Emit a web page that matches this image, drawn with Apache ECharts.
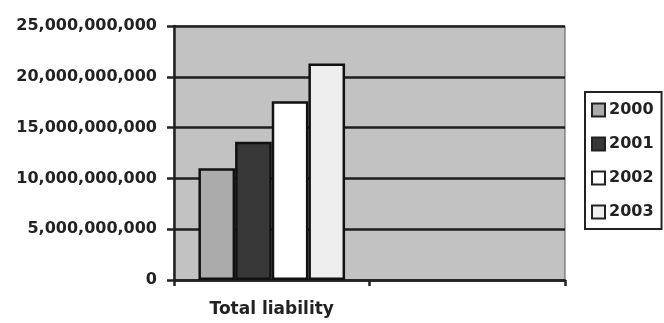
<!DOCTYPE html>
<html>
<head>
<meta charset="utf-8">
<script src="https://cdn.jsdelivr.net/npm/echarts@6/dist/echarts.min.js"></script>
<style>
  html, body { margin: 0; padding: 0; background: #ffffff; }
  #chart { width: 664px; height: 323px; }
</style>
</head>
<body>
<div id="chart"></div>
<script>
// Categories on the x axis (the second slot is left empty)
const categories = ['Total liability', ''];
// Year series and their values
const years = ['2000', '2001', '2002', '2003'];
const values2000 = [11000000000, null];
const values2001 = [13600000000, null];
const values2002 = [17600000000, null];
const values2003 = [21300000000, null];
// Value axis ticks
const yMin = 0;
const yMax = 25000000000;
const yStep = 5000000000;

const seriesValues = [values2000, values2001, values2002, values2003];
const fills = ['#ababab', '#383838', '#ffffff', '#eeeeee'];

const chart = echarts.init(document.getElementById('chart'), null, { renderer: 'canvas' });

const fmt = v => v.toLocaleString('en-US');
const font = 'DejaVu Sans, Verdana, sans-serif';

chart.setOption({
  animation: false,
  backgroundColor: '#ffffff',
  textStyle: { fontFamily: font },
  grid: {
    left: 174, right: 99, top: 26, bottom: 43,
    show: true,
    backgroundColor: '#c2c2c2',
    borderColor: '#555555',
    borderWidth: 1
  },
  legend: {
    orient: 'vertical',
    left: 585,
    top: 92,
    padding: [10, 8, 9, 6],
    itemGap: 18,
    itemWidth: 13,
    itemHeight: 13,
    borderColor: '#222222',
    borderWidth: 2,
    borderRadius: 0,
    backgroundColor: '#ffffff',
    icon: 'rect',
    textStyle: { fontFamily: font, fontSize: 16, fontWeight: 'bold', color: '#222222', padding: [0, 0, 0, -1] },
    itemStyle: { borderColor: '#222222', borderWidth: 2 },
    data: years
  },
  xAxis: {
    type: 'category',
    data: categories,
    axisLine: { show: true, lineStyle: { color: '#222222', width: 2.5 } },
    axisTick: { show: true, length: 6, inside: false, lineStyle: { color: '#222222', width: 2.5 } },
    axisLabel: { fontFamily: font, fontSize: 17, fontWeight: 'bold', color: '#222222', margin: 21 }
  },
  yAxis: {
    type: 'value',
    min: yMin, max: yMax, interval: yStep,
    axisLine: { show: true, lineStyle: { color: '#222222', width: 2.5 } },
    axisTick: { show: true, length: 7, lineStyle: { color: '#222222', width: 2.5 } },
    axisLabel: { fontFamily: font, fontSize: 16, fontWeight: 'bold', color: '#222222', margin: 17, formatter: fmt },
    splitLine: { show: true, lineStyle: { color: '#1e1e1e', width: 2.5 } }
  },
  series: years.map((y, i) => ({
    name: y,
    type: 'bar',
    data: seriesValues[i],
    barGap: '0%',
    barCategoryGap: '25%',
    itemStyle: { color: fills[i], borderColor: '#111111', borderWidth: 2.5 }
  }))
});
</script>
</body>
</html>
